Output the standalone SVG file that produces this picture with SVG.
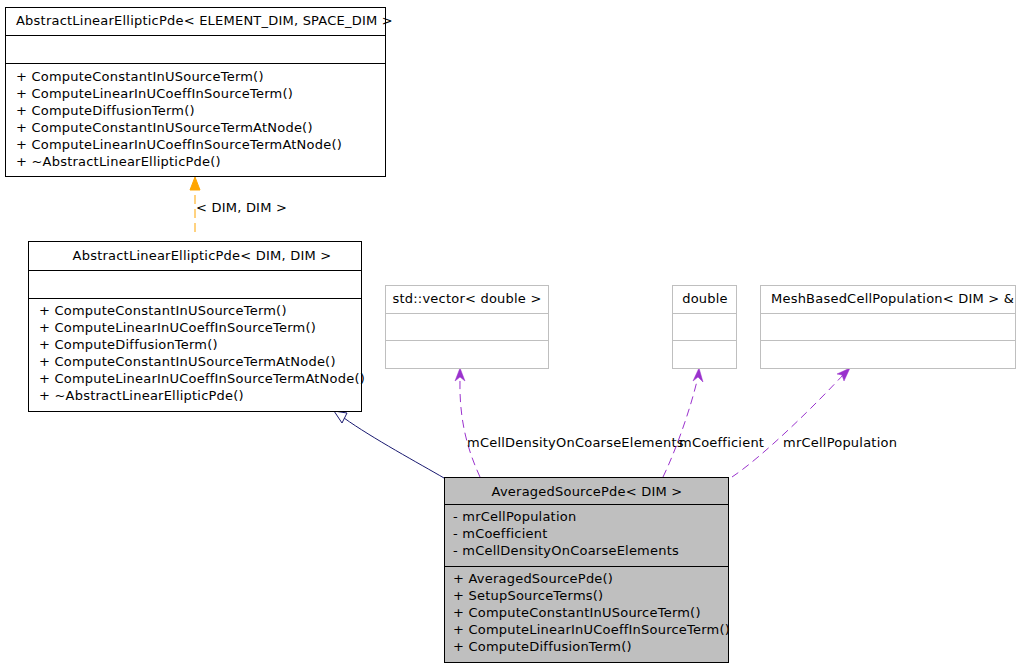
<svg xmlns="http://www.w3.org/2000/svg" width="1019" height="667" viewBox="0 0 1019 667">
<style>
text{font-family:"DejaVu Sans","Liberation Sans",sans-serif;font-size:13px;letter-spacing:0.22px;fill:#000}
.box{fill:#fff;stroke:#000;stroke-width:1}
.gbox{fill:#fff;stroke:#bfbfbf;stroke-width:1}
.main{fill:#bfbfbf;stroke:#000;stroke-width:1}
.sep{stroke:#000;stroke-width:1}
.gsep{stroke:#bfbfbf;stroke-width:1}
.mid{text-anchor:middle}
.use{fill:none;stroke:#9a32cd;stroke-width:1;stroke-dasharray:8,5}
.tmpl{fill:none;stroke:#ffa500;stroke-width:1;stroke-dasharray:9,5}
.inh{fill:none;stroke:#191970;stroke-width:1}
</style>
<rect width="1019" height="667" fill="#fff"/>
<g id="connectors">
  <path class="tmpl" d="M195,232 L195,190"/>
  <polygon points="195,177 190,190 200,190" fill="#ffa500" stroke="#ffa500"/>
  <text x="196" y="212">&lt; DIM, DIM &gt;</text>
  <path class="inh" d="M444,478 C420,464 372,438 344,418"/>
  <polygon points="334,411 347,413 342,423" fill="#fff" stroke="#191970"/>
  <path class="use" d="M480,477 C470,455 459,425 460,380"/>
  <polygon points="460,368 455,381 460,377 465,381" fill="#9a32cd" stroke="#9a32cd" stroke-width="0.5"/>
  <text x="467" y="447">mCellDensityOnCoarseElements</text>
  <path class="use" d="M663,477 C676,450 690,410 697,381"/>
  <polygon points="699,368 693,381 698,377 703,382" fill="#9a32cd" stroke="#9a32cd" stroke-width="0.5"/>
  <text x="679" y="447">mCoefficient</text>
  <path class="use" d="M732,477 C765,455 820,400 843,375"/>
  <polygon points="850,368 837,374 842,375 844,381" fill="#9a32cd" stroke="#9a32cd" stroke-width="0.5"/>
  <text x="783" y="447">mrCellPopulation</text>
</g>
<g id="node_top">
  <rect class="box" x="5.5" y="7.5" width="380" height="169"/>
  <line class="sep" x1="5.5" y1="35.5" x2="385.5" y2="35.5"/>
  <line class="sep" x1="5.5" y1="63.5" x2="385.5" y2="63.5"/>
  <text x="16" y="25">AbstractLinearEllipticPde&lt; ELEMENT_DIM, SPACE_DIM &gt;</text>
  <text x="16" y="81">+ ComputeConstantInUSourceTerm()</text>
  <text x="16" y="98">+ ComputeLinearInUCoeffInSourceTerm()</text>
  <text x="16" y="115">+ ComputeDiffusionTerm()</text>
  <text x="16" y="132">+ ComputeConstantInUSourceTermAtNode()</text>
  <text x="16" y="149">+ ComputeLinearInUCoeffInSourceTermAtNode()</text>
  <text x="16" y="166">+ ~AbstractLinearEllipticPde()</text>
</g>
<g id="node_mid">
  <rect class="box" x="28.5" y="241.5" width="333" height="170"/>
  <line class="sep" x1="28.5" y1="270.5" x2="361.5" y2="270.5"/>
  <line class="sep" x1="28.5" y1="298.5" x2="361.5" y2="298.5"/>
  <text class="mid" x="202" y="260">AbstractLinearEllipticPde&lt; DIM, DIM &gt;</text>
  <text x="39" y="315">+ ComputeConstantInUSourceTerm()</text>
  <text x="39" y="332">+ ComputeLinearInUCoeffInSourceTerm()</text>
  <text x="39" y="349">+ ComputeDiffusionTerm()</text>
  <text x="39" y="366">+ ComputeConstantInUSourceTermAtNode()</text>
  <text x="39" y="383">+ ComputeLinearInUCoeffInSourceTermAtNode()</text>
  <text x="39" y="400">+ ~AbstractLinearEllipticPde()</text>
</g>
<g id="node_vector">
  <rect class="gbox" x="385.5" y="285.5" width="163" height="83"/>
  <line class="gsep" x1="385.5" y1="313.5" x2="548.5" y2="313.5"/>
  <line class="gsep" x1="385.5" y1="340.5" x2="548.5" y2="340.5"/>
  <text class="mid" x="467" y="303">std::vector&lt; double &gt;</text>
</g>
<g id="node_double">
  <rect class="gbox" x="672.5" y="285.5" width="64" height="83"/>
  <line class="gsep" x1="672.5" y1="313.5" x2="736.5" y2="313.5"/>
  <line class="gsep" x1="672.5" y1="340.5" x2="736.5" y2="340.5"/>
  <text class="mid" x="705" y="303">double</text>
</g>
<g id="node_mesh">
  <rect class="gbox" x="760.5" y="285.5" width="255" height="83"/>
  <line class="gsep" x1="760.5" y1="313.5" x2="1015.5" y2="313.5"/>
  <line class="gsep" x1="760.5" y1="340.5" x2="1015.5" y2="340.5"/>
  <text x="771" y="303">MeshBasedCellPopulation&lt; DIM &gt; &amp;</text>
</g>
<g id="node_main">
  <rect class="main" x="444.5" y="477.5" width="284" height="185"/>
  <line class="sep" x1="444.5" y1="504.5" x2="728.5" y2="504.5"/>
  <line class="sep" x1="444.5" y1="566.5" x2="728.5" y2="566.5"/>
  <text class="mid" x="587" y="496">AveragedSourcePde&lt; DIM &gt;</text>
  <text x="453" y="521">- mrCellPopulation</text>
  <text x="453" y="538">- mCoefficient</text>
  <text x="453" y="555">- mCellDensityOnCoarseElements</text>
  <text x="453" y="583">+ AveragedSourcePde()</text>
  <text x="453" y="600">+ SetupSourceTerms()</text>
  <text x="453" y="617">+ ComputeConstantInUSourceTerm()</text>
  <text x="453" y="634">+ ComputeLinearInUCoeffInSourceTerm()</text>
  <text x="453" y="651">+ ComputeDiffusionTerm()</text>
</g>
</svg>
